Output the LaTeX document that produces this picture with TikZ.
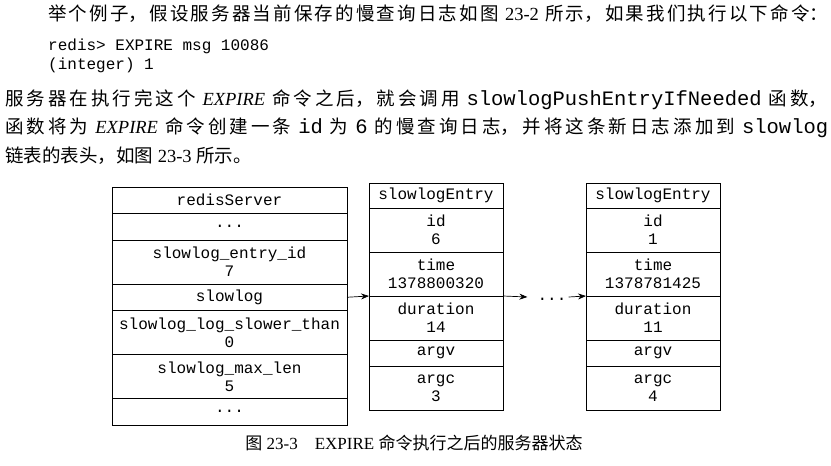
\documentclass[tikz,border=0pt]{standalone}
\usepackage{fontspec}
\setmainfont{Liberation Serif}
\setmonofont{Liberation Mono}
\newfontfamily\cjk{Noto Sans CJK SC}
\usetikzlibrary{positioning,arrows.meta}
\XeTeXlinebreaklocale "zh"
\XeTeXlinebreakskip=0pt plus 3pt minus 0.5pt
\newcommand{\zh}[1]{{\cjk #1}}
\newcommand{\code}[1]{{\fontsize{20.5}{22}\selectfont\ttfamily #1}}
\newcommand{\bodyline}[2]{\parbox[t]{#1}{\parfillskip=0pt\tolerance=10000\fontsize{18.5}{22}\selectfont #2}}
\begin{document}
\begin{tikzpicture}[x=1pt,y=-1pt,
  field/.style={draw, line width=0.9pt, inner sep=0pt, outer sep=0pt, align=center, font=\ttfamily\fontsize{16}{18}\selectfont},
  srv/.style={field, minimum width=235pt},
  ent/.style={field, minimum width=134pt},
  one/.style={minimum height=26.5pt},
  two/.style={minimum height=44pt},
  link/.style={-{Stealth[length=8pt,width=6pt]}, line width=0.7pt},
  txt/.style={anchor=base west, inner sep=0pt}]
\useasboundingbox (0,0) rectangle (831,466);
% text above the figure
\node[txt] (par1) at (48,20) {\bodyline{780pt}{\zh{举个例子，假设服务器当前保存的慢查询日志如图} 23-2 \zh{所示，如果我们执行以下命令：}}};
\node[txt, font=\ttfamily\fontsize{16}{20}\selectfont] (cmd1) at (48,50) {redis> EXPIRE msg 10086};
\node[txt, font=\ttfamily\fontsize{16}{20}\selectfont] (cmd2) at (48,69) {(integer) 1};
\node[txt] (par2) at (5,105) {\bodyline{822pt}{\zh{服务器在执行完这个} \textit{EXPIRE} \zh{命令之后，就会调用} \code{slowlogPushEntryIfNeeded} \zh{函数，}}};
\node[txt] (par3) at (5,133) {\bodyline{823pt}{\zh{函数将为} \textit{EXPIRE} \zh{命令创建一条} \code{id} \zh{为} \code{6} \zh{的慢查询日志，并将这条新日志添加到} \code{slowlog}}};
\node[txt, font=\fontsize{18.5}{22}\selectfont] (par4) at (5,162) {\zh{链表的表头，如图} 23-3 \zh{所示。}};

% redisServer
\node[srv, one, anchor=north west] (server) at (112,187) {redisServer};
\node[srv, one, below=0pt of server] (sdots1) {...};
\node[srv, two, below=0pt of sdots1] (entryid) {slowlog\_entry\_id\\7};
\node[srv, one, below=0pt of entryid] (slowlog) {slowlog};
\node[srv, two, below=0pt of slowlog] (slower) {slowlog\_log\_slower\_than\\0};
\node[srv, two, below=0pt of slower] (maxlen) {slowlog\_max\_len\\5};
\node[srv, one, below=0pt of maxlen] (sdots2) {...};

% newest entry
\node[ent, one, anchor=north west, minimum height=25pt] (entry1) at (369,183) {slowlogEntry};
\node[ent, two, below=0pt of entry1] (id1) {id\\6};
\node[ent, two, below=0pt of id1] (time1) {time\\1378800320};
\node[ent, two, below=0pt of time1] (dur1) {duration\\14};
\node[ent, one, below=0pt of dur1] (argv1) {argv};
\node[ent, two, below=0pt of argv1] (argc1) {argc\\3};

% oldest entry
\node[ent, one, anchor=north west, minimum height=25pt] (entry2) at (586,183) {slowlogEntry};
\node[ent, two, below=0pt of entry2] (id2) {id\\1};
\node[ent, two, below=0pt of id2] (time2) {time\\1378781425};
\node[ent, two, below=0pt of time2] (dur2) {duration\\11};
\node[ent, one, below=0pt of dur2] (argv2) {argv};
\node[ent, two, below=0pt of argv2] (argc2) {argc\\4};

\node[inner sep=0pt, font=\ttfamily\fontsize{16}{18}\selectfont] (gap) at (552,297) {\strut...};
\draw[link] (slowlog.east) -- (time1.south west);
\draw[link] (time1.south east) -- ([xshift=-10pt]gap.west);
\draw[link] ([xshift=2pt]gap.east) -- (time2.south west);

\node[anchor=base, inner sep=0pt, font=\fontsize{17}{20}\selectfont] (caption) at (414,449) {\zh{图} 23-3\quad EXPIRE \zh{命令执行之后的服务器状态}};
\end{tikzpicture}
\end{document}
